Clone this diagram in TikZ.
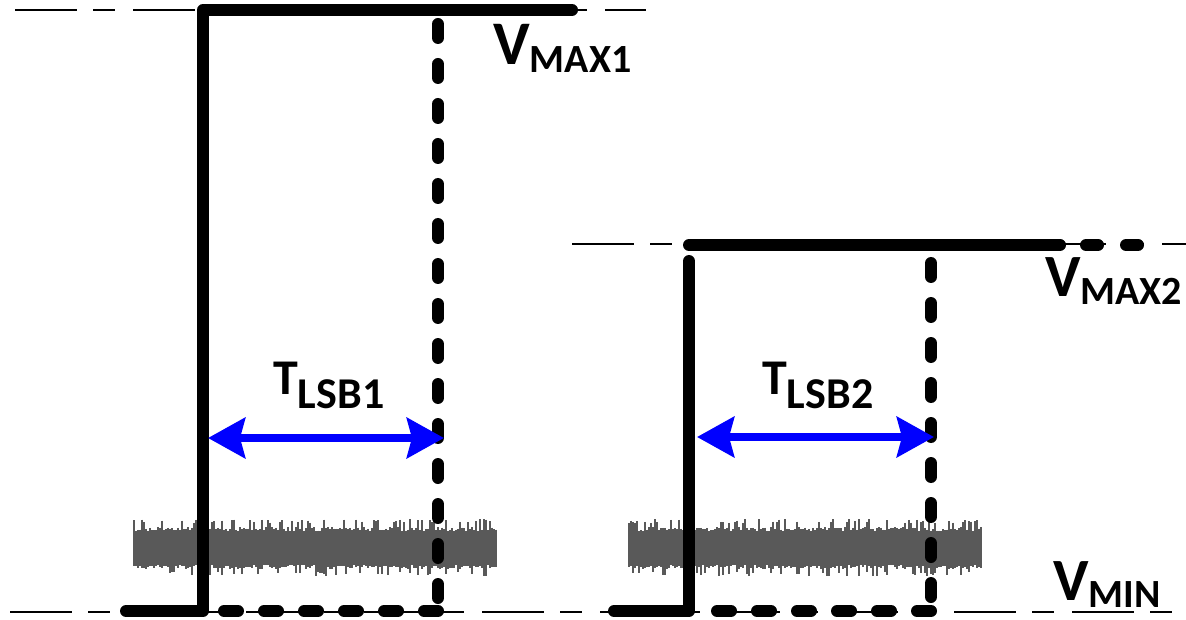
\documentclass[tikz,border=0pt]{standalone}
\usepackage{fontspec}
\setmainfont{Carlito}
\usetikzlibrary{arrows.meta}
\definecolor{noisegray}{RGB}{89,89,89}
\definecolor{arrowblue}{RGB}{0,0,255}
\begin{document}
\begin{tikzpicture}[x=1pt,y=-1pt,
  refline/.style={line width=2pt, dash pattern=on 62pt off 16pt on 22pt off 18pt},
  sig/.style={line width=12pt, line cap=round, line join=round},
  sigdash/.style={sig, dash pattern=on 14pt off 26pt},
  sigdots/.style={sig, dash pattern=on 12pt off 28pt},
  noise/.style={noisegray, line width=2.6pt},
  span/.style={arrowblue, line width=8pt, {Stealth[length=37pt,width=40pt,inset=5pt]}-{Stealth[length=37pt,width=40pt,inset=5pt]}},
  lbl/.style={inner sep=0pt, font=\bfseries, anchor=base west}]
\useasboundingbox (0,0) rectangle (1186,620);
% reference levels
\coordinate (r1a) at (15,10);   \coordinate (r1b) at (646,10);
\coordinate (r2a) at (572,244); \coordinate (r2b) at (1186,244);
\coordinate (r3a) at (10,612);  \coordinate (r3b) at (1174,612);
\draw[refline] (r1a) -- (r1b);
\draw[refline] (r2a) -- (r2b);
\draw[refline] (r3a) -- (r3b);
% noise bands
\pgfmathsetseed{11}
\foreach \k in {0,...,181}{
  \pgfmathsetmacro\xx{134+2*\k}
  \pgfmathsetmacro\ta{531-4*rnd-8*(rnd>0.7)}
  \pgfmathsetmacro\tb{565+4*rnd+7*(rnd>0.7)}
  \draw[noise] (\xx,\ta) -- (\xx,\tb);
}
\foreach \k in {0,...,176}{
  \pgfmathsetmacro\xx{629+2*\k}
  \pgfmathsetmacro\ta{531-4*rnd-8*(rnd>0.7)}
  \pgfmathsetmacro\tb{565+4*rnd+7*(rnd>0.7)}
  \draw[noise] (\xx,\ta) -- (\xx,\tb);
}
% signal 1
\coordinate (s1a) at (126,611); \coordinate (s1b) at (203,611);
\coordinate (s1c) at (203,10);  \coordinate (s1d) at (572,10);
\coordinate (d1a) at (438,24);  \coordinate (d1b) at (438,611);
\coordinate (d1c) at (205,611);
\draw[sig] (s1a) -- (s1b) -- (s1c) -- (s1d);
\draw[sigdash] (d1a) -- (d1b);
\draw[sigdash] (d1b) -- (d1c);
% signal 2
\coordinate (s2a) at (614,611); \coordinate (s2b) at (689,611);
\coordinate (s2c) at (689,261);
\coordinate (s2d) at (689,245); \coordinate (s2e) at (1060,245);
\coordinate (s2f) at (1086,245); \coordinate (s2g) at (1166,245);
\coordinate (d2a) at (931,263); \coordinate (d2b) at (931,611);
\coordinate (d2c) at (695,611);
\draw[sig] (s2a) -- (s2b) -- (s2c);
\draw[sig] (s2d) -- (s2e);
\draw[sigdots] (s2f) -- (s2g);
\draw[sigdash] (d2a) -- (d2b);
\draw[sigdash] (d2b) -- (d2c);
% spans
\coordinate (a1l) at (208,438); \coordinate (a1r) at (444,438);
\coordinate (a2l) at (697,437); \coordinate (a2r) at (934,437);
\draw[span] (a1l) -- (a1r);
\draw[span] (a2l) -- (a2r);
% labels
\node[lbl] (vmax1) at (493,65) {\fontsize{62}{62}\selectfont V\raisebox{-8pt}{\fontsize{40}{40}\selectfont MAX1}};
\node[lbl] (vmax2) at (1045,297) {\fontsize{60}{60}\selectfont V\raisebox{-8pt}{\fontsize{40}{40}\selectfont MAX2}};
\node[lbl] (vmin) at (1053,600) {\fontsize{60}{60}\selectfont V\raisebox{-7pt}{\fontsize{40}{40}\selectfont MIN}};
\node[lbl] (tlsb1) at (273,394) {\fontsize{50}{50}\selectfont T\raisebox{-14pt}{\fontsize{44}{44}\selectfont LSB1}};
\node[lbl] (tlsb2) at (762,394) {\fontsize{50}{50}\selectfont T\raisebox{-14pt}{\fontsize{44}{44}\selectfont LSB2}};
\end{tikzpicture}
\end{document}
